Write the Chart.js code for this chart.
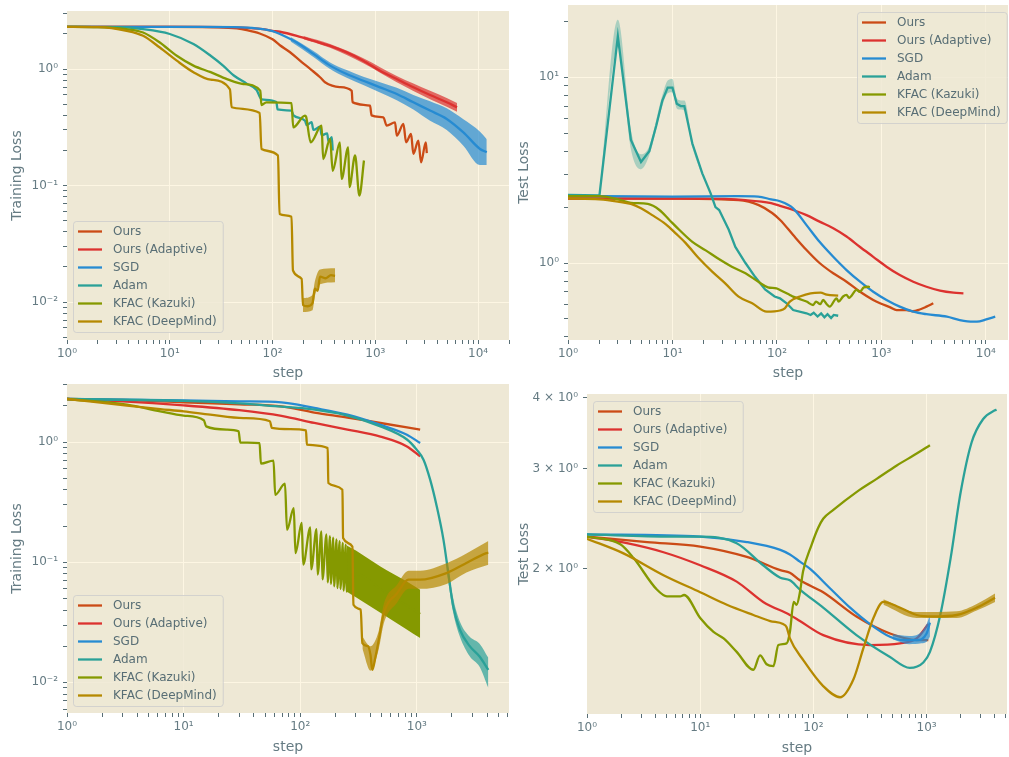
<!DOCTYPE html>
<html>
<head>
<meta charset="utf-8">
<title>Training / test loss</title>
<script src="https://cdn.jsdelivr.net/npm/chart.js@4.4.1/dist/chart.umd.min.js"></script>
<style>
  html, body { margin: 0; padding: 0; background: #ffffff; }
  #figure { position: relative; width: 1009px; height: 757px; overflow: hidden; }
  #figure canvas { position: absolute; }
</style>
</head>
<body>
<div id="figure">
  <canvas id="trainA" width="510" height="380" style="left:0px;top:0px"></canvas>
  <canvas id="testA" width="504" height="380" style="left:505px;top:0px"></canvas>
  <canvas id="trainB" width="510" height="377" style="left:0px;top:380px"></canvas>
  <canvas id="testB" width="504" height="377" style="left:505px;top:380px"></canvas>
</div>
<script>
// Series names and colours (Solarize_Light2 cycle)
const SERIES_KEYS = ['ours', 'adaptive', 'sgd', 'adam', 'kazuki', 'deepmind'];
const SERIES_LABELS = ['Ours', 'Ours (Adaptive)', 'SGD', 'Adam', 'KFAC (Kazuki)', 'KFAC (DeepMind)'];
const SERIES_COLORS = ['#cb4b16', '#dc322f', '#268bd2', '#2aa198', '#859900', '#b58900'];

// Tick labels
const DECADE_VALUES = [0.01, 0.1, 1, 10, 100, 1000, 10000];
const DECADE_LABELS = ['10⁻²', '10⁻¹', '10⁰', '10¹', '10²', '10³', '10⁴'];
const TESTB_Y_VALUES = [2, 3, 4];
const TESTB_Y_LABELS = ['2 × 10⁰', '3 × 10⁰', '4 × 10⁰'];

// ---- Top left: training loss, run A  ([step, loss]) ----
const trainAOurs = [[1,2.30],[10,2.30],[30,2.28],[45,2.23],[56,2.16],[75,2.02],[100,1.80],[118,1.60],[147,1.40],[185,1.18],[240,0.98],[290,0.85],[324,0.77],[450,0.70],[590,0.65],[600,0.52],[889,0.485],[920,0.40],[1197,0.385],[1292,0.327],[1556,0.349],[1618,0.268],[1877,0.338],[1993,0.235],[2228,0.277],[2346,0.187],[2624,0.243],[2787,0.158],[3097,0.235],[3170,0.19]];
const trainAAdaptive = [[1,2.30],[20,2.30],[50,2.27],[80,2.20],[100,2.13],[118,2.09],[172,1.93],[250,1.75],[363,1.58],[527,1.39],[765,1.18],[1112,0.968],[1618,0.82],[2346,0.697],[3412,0.598],[4955,0.518],[6240,0.469]];
const trainASgd = [[1,2.30],[20,2.30],[50,2.28],[80,2.20],[100,2.12],[118,2.00],[172,1.69],[250,1.35],[363,1.07],[527,0.906],[765,0.794],[1112,0.697],[1618,0.61],[2346,0.518],[3412,0.44],[4955,0.373],[7194,0.286],[10450,0.206],[12150,0.193]];
const trainAAdam = [[1,2.30],[3,2.29],[5.5,2.20],[10,2.0],[17,1.64],[25,1.30],[33,1.07],[42,0.88],[56,0.75],[70,0.66],[78,0.55],[109,0.52],[112,0.45],[153,0.44],[160,0.40],[207,0.36],[215,0.33],[240,0.35],[250,0.30],[290,0.32],[300,0.27],[340,0.28],[350,0.24],[377,0.26],[385,0.20]];
const trainAKazuki = [[1,2.30],[2,2.29],[3.8,2.2],[5.5,2.06],[8,1.69],[11.7,1.30],[17,1.07],[25,0.94],[36,0.82],[52,0.744],[76,0.65],[78,0.49],[87,0.518],[153,0.51],[159,0.316],[207,0.398],[212,0.39],[235,0.235],[300,0.327],[311,0.169],[363,0.251],[385,0.134],[452,0.235],[470,0.114],[545,0.213],[560,0.097],[636,0.181],[700,0.082],[776,0.164]];
const trainADeepmind = [[1,2.30],[2,2.29],[3.8,2.13],[5.5,1.93],[8,1.53],[11.7,1.18],[17,0.94],[25,0.81],[38.5,0.67],[40,0.47],[75,0.42],[78,0.206],[113,0.181],[117,0.057],[153,0.054],[158,0.0187],[192,0.0158],[198,0.0094],[220,0.0092],[245,0.0098],[258,0.013],[275,0.0125],[290,0.0165],[330,0.016],[370,0.017],[406,0.0168]];
// noise envelopes: [step, low, high]
const trainAAdaptiveBand = [[200,1.80,1.92],[363,1.52,1.64],[765,1.12,1.24],[1618,0.77,0.87],[3412,0.55,0.65],[4955,0.475,0.565],[6240,0.43,0.51]];
const trainASgdBand = [[150,1.72,1.88],[250,1.27,1.43],[363,1.0,1.14],[527,0.84,0.98],[765,0.73,0.86],[1112,0.63,0.77],[1618,0.54,0.69],[2346,0.45,0.60],[3412,0.36,0.53],[4955,0.30,0.46],[7194,0.22,0.37],[10450,0.15,0.29],[12150,0.15,0.25]];
const trainADeepmindBand = [[198,0.0082,0.0108],[245,0.0085,0.0115],[258,0.0112,0.015],[290,0.0142,0.019],[406,0.0148,0.0195]];

// ---- Top right: test loss, run A ----
const testAOurs = [[1,2.23],[10,2.22],[43,2.18],[67,2.05],[90,1.86],[108,1.70],[143,1.415],[192,1.175],[256,1.0],[346,0.88],[464,0.793],[625,0.70],[836,0.632],[970,0.607],[1217,0.577],[1400,0.558],[1740,0.558],[2000,0.55],[2300,0.56],[2700,0.582],[3140,0.607]];
const testAAdaptive = [[1,2.22],[20,2.22],[50,2.18],[88,2.10],[107,2.03],[143,1.93],[192,1.81],[256,1.67],[346,1.54],[464,1.39],[625,1.22],[836,1.08],[1120,0.955],[1500,0.861],[2020,0.793],[2700,0.745],[3640,0.71],[4900,0.692],[6100,0.687]];
const testASgd = [[1,2.30],[10,2.28],[42,2.29],[66,2.28],[88,2.2],[107,2.15],[143,1.97],[192,1.6],[256,1.30],[346,1.08],[464,0.916],[625,0.793],[836,0.70],[1120,0.632],[1500,0.582],[2020,0.547],[2700,0.53],[4240,0.514],[5630,0.493],[7560,0.483],[8730,0.485],[10100,0.497],[12300,0.514]];
const testAAdam = [[1,2.33],[2,2.31],[3,16.6],[4,4.6],[5,3.5],[6,4.0],[7,5.5],[8,7.5],[9,8.8],[10,8.8],[11,7.2],[12,7.0],[13,7.0],[15.5,4.4],[19.3,3.04],[23.2,2.37],[25.8,2.0],[28,1.93],[34.6,1.51],[40,1.22],[50,1.0],[62,0.84],[77,0.72],[95,0.66],[107,0.645],[124,0.607],[143,0.558],[192,0.536],[210,0.525],[225,0.54],[245,0.515],[265,0.535],[285,0.51],[305,0.53],[330,0.505],[350,0.525],[386,0.52]];
const testAKazuki = [[1,2.29],[2,2.29],[3,2.2],[4,2.11],[5.8,2.08],[7.5,1.93],[9.3,1.71],[11.6,1.51],[15.5,1.30],[20.8,1.17],[27.8,1.05],[37,0.955],[50,0.88],[67,0.79],[82,0.74],[99,0.73],[107,0.716],[133,0.673],[143,0.659],[192,0.62],[222,0.594],[237,0.62],[260,0.60],[277,0.632],[300,0.60],[320,0.582],[372,0.645],[390,0.62],[430,0.66],[464,0.673],[490,0.65],[580,0.716],[620,0.70],[680,0.74],[750,0.745],[775,0.74]];
const testADeepmind = [[1,2.23],[2,2.2],[3,2.14],[4,2.08],[5,1.97],[6.4,1.81],[8.6,1.62],[10.8,1.44],[13.4,1.28],[17.9,1.06],[24,0.898],[32,0.777],[43,0.659],[58,0.607],[80,0.547],[107,0.555],[119,0.57],[133,0.62],[166,0.66],[210,0.687],[262,0.692],[300,0.675],[386,0.668]];
const testAAdamBand = [[2,2.30,2.36],[3,14.5,20.4],[4,4.1,5.2],[5,3.2,3.85],[6,3.8,4.25],[8,7.0,8.0],[9,8.2,9.6],[10,8.3,9.8],[11,6.8,7.7],[12,6.7,7.5],[13,6.6,7.5],[15.5,4.2,4.6],[19.3,2.95,3.12]];

// ---- Bottom left: training loss, run B ----
const trainBOurs = [[1,2.28],[3,2.24],[10,2.14],[30,2.06],[69,1.98],[132,1.76],[254,1.60],[487,1.44],[1067,1.27]];
const trainBAdaptive = [[1,2.28],[3,2.18],[10,2.02],[30,1.84],[69,1.65],[132,1.44],[254,1.27],[487,1.11],[822,0.92],[1067,0.76]];
const trainBSgd = [[1,2.28],[10,2.22],[30,2.18],[69,2.14],[132,1.92],[254,1.69],[487,1.39],[822,1.15],[1067,0.98]];
const trainBAdam = [[1,2.28],[10,2.2],[30,2.10],[69,1.97],[100,1.92],[254,1.66],[487,1.35],[822,1.05],[1000,0.86],[1140,0.713],[1300,0.486],[1480,0.292],[1690,0.154],[1860,0.0813],[2050,0.0429],[2340,0.0274],[2840,0.02],[3450,0.0164],[4100,0.0127]];
const trainBKazuki = [[1,2.28],[3.27,2.05],[6.3,1.80],[10,1.66],[14.9,1.52],[15.6,1.35],[23.5,1.27],[29.6,1.23],[30.6,0.99],[44.8,0.98],[46,0.66],[59,0.70],[61,0.364],[74,0.45],[77,0.186],[88,0.282],[91,0.119],[103,0.212],[106,0.0955],[122,0.195],[124,0.087],[138,0.188],[141,0.079],[152,0.18],[155,0.072],[168,0.17],[172,0.068],[180,0.165],[183,0.066],[192,0.16],[195,0.063],[205,0.155],[208,0.061],[218,0.15],[221,0.06],[232,0.145],[235,0.058],[246,0.14],[249,0.057],[300,0.08],[487,0.06],[1067,0.037]];
const trainBDeepmind = [[1,2.28],[3.27,2.01],[6.3,1.88],[10,1.80],[16.9,1.69],[32.6,1.58],[55,1.49],[57,1.31],[82,1.28],[112,1.25],[114,0.95],[172,0.89],[174,0.456],[230,0.40],[233,0.159],[280,0.135],[286,0.0443],[330,0.0403],[341,0.0212],[380,0.020],[400,0.017],[415,0.0127],[440,0.016],[472,0.0227],[521,0.0378],[676,0.055],[849,0.0715],[1067,0.0715],[1800,0.0813],[2660,0.0984],[3940,0.119],[4100,0.12]];
const trainBAdamBand = [[1800,0.085,0.11],[2050,0.038,0.05],[2340,0.024,0.032],[2840,0.0165,0.024],[3450,0.0135,0.021],[4100,0.009,0.016]];
const trainBKazukiBand = [[250,0.057,0.138],[300,0.051,0.125],[487,0.038,0.092],[800,0.028,0.07],[1067,0.0234,0.059]];
const trainBDeepmindBand = [[341,0.019,0.024],[400,0.0125,0.02],[472,0.019,0.027],[521,0.031,0.045],[676,0.046,0.065],[849,0.06,0.085],[1067,0.06,0.085],[1800,0.066,0.098],[2660,0.082,0.118],[4100,0.095,0.15]];

// ---- Bottom right: test loss, run B ----
const testBOurs = [[1,2.28],[3.4,2.23],[10,2.19],[25.8,2.10],[51,1.99],[62,1.97],[76,1.91],[122,1.82],[240,1.65],[475,1.54],[817,1.50],[1035,1.50]];
const testBAdaptive = [[1,2.28],[2.25,2.22],[4.74,2.14],[10,2.03],[21,1.90],[36,1.75],[62,1.66],[76,1.62],[122,1.53],[316,1.47],[582,1.48],[817,1.51],[1035,1.60]];
const testBSgd = [[1,2.30],[10,2.28],[25.8,2.23],[51,2.16],[62,2.12],[76,2.06],[93.5,2.0],[140,1.85],[211,1.71],[316,1.60],[475,1.52],[622,1.50],[817,1.50],[1000,1.54],[1070,1.61]];
const testBAdam = [[1,2.30],[5.6,2.28],[10,2.28],[21,2.22],[36,2.03],[51,1.93],[62,1.91],[76,1.84],[122,1.71],[240,1.53],[475,1.40],[710,1.34],[935,1.37],[1070,1.43],[1320,1.66],[1630,2.09],[2000,2.73],[2500,3.34],[3160,3.67],[4020,3.80],[4150,3.81]];
const testBKazuki = [[1,2.28],[1.97,2.21],[2.58,2.09],[4.14,1.84],[5.08,1.79],[6.66,1.79],[7.2,1.80],[10,1.64],[13.1,1.55],[16.1,1.51],[21,1.43],[29.5,1.33],[33.8,1.41],[38.6,1.36],[44.4,1.35],[49,1.47],[58,1.48],[62,1.55],[67,1.75],[71,1.73],[76,1.82],[81,1.98],[96,2.20],[110,2.36],[122,2.45],[150,2.54],[240,2.73],[362,2.88],[545,3.04],[817,3.19],[1070,3.30]];
const testBDeepmind = [[1,2.26],[2.1,2.13],[4.74,1.95],[10,1.82],[17.2,1.73],[29.5,1.66],[41.5,1.62],[54,1.60],[58,1.58],[62,1.51],[82,1.38],[122,1.245],[172,1.19],[226,1.28],[276,1.45],[339,1.64],[415,1.75],[545,1.72],[817,1.66],[1146,1.65],[1845,1.66],[2770,1.71],[4020,1.78]];
const testBSgdBand = [[500,1.505,1.535],[700,1.475,1.525],[900,1.48,1.55],[1000,1.49,1.60],[1070,1.52,1.66]];
const testBDeepmindBand = [[415,1.73,1.77],[817,1.64,1.68],[1845,1.64,1.685],[2770,1.69,1.735],[4020,1.75,1.81]];

// Panel layout (canvas-relative pixels); "sharp" series are drawn as straight segments
const PANELS = [
  {
    id: 'trainA', yWidth: 67, xHeight: 40, pad: { top: 11, right: 1 },
    xMax: 2.0e4, yMin: 0.00472, yMax: 3.15, yLabel: 'Training Loss', yTitlePad: 10, xTitlePad: 0,
    yValues: DECADE_VALUES, yLabels: DECADE_LABELS, legend: { x: 73, y: 221 },
    series: { ours: trainAOurs, adaptive: trainAAdaptive, sgd: trainASgd, adam: trainAAdam, kazuki: trainAKazuki, deepmind: trainADeepmind },
    bands: { adaptive: trainAAdaptiveBand, sgd: trainASgdBand, deepmind: trainADeepmindBand },
    sharp: []
  },
  {
    id: 'testA', yWidth: 63, xHeight: 40, pad: { top: 5, right: 1 },
    xMax: 1.63e4, yMin: 0.385, yMax: 24.5, yLabel: 'Test Loss', yTitlePad: 12, xTitlePad: 0,
    yValues: DECADE_VALUES, yLabels: DECADE_LABELS, legend: { x: 352, y: 12 },
    series: { ours: testAOurs, adaptive: testAAdaptive, sgd: testASgd, adam: testAAdam, kazuki: testAKazuki, deepmind: testADeepmind },
    bands: { adam: testAAdamBand }, bandAlpha: { adam: 0.35 },
    sharp: ['adam']
  },
  {
    id: 'trainB', yWidth: 67, xHeight: 44, pad: { top: 4, right: 1 },
    xMax: 6166, yMin: 0.00556, yMax: 3.04, yLabel: 'Training Loss', yTitlePad: 10, xTitlePad: 3,
    yValues: DECADE_VALUES, yLabels: DECADE_LABELS, legend: { x: 73, y: 215 },
    series: { ours: trainBOurs, adaptive: trainBAdaptive, sgd: trainBSgd, adam: trainBAdam, kazuki: trainBKazuki, deepmind: trainBDeepmind },
    bands: { adam: trainBAdamBand, kazuki: trainBKazukiBand, deepmind: trainBDeepmindBand }, bandAlpha: { kazuki: 1 },
    sharp: []
  },
  {
    id: 'testB', yWidth: 82, xHeight: 43, pad: { top: 14, right: 2 },
    xMax: 5130, yMin: 1.112, yMax: 4.06, yLabel: 'Test Loss', yTitlePad: 12, xTitlePad: 2,
    yValues: TESTB_Y_VALUES, yLabels: TESTB_Y_LABELS, legend: { x: 88, y: 21 },
    series: { ours: testBOurs, adaptive: testBAdaptive, sgd: testBSgd, adam: testBAdam, kazuki: testBKazuki, deepmind: testBDeepmind },
    bands: { sgd: testBSgdBand, deepmind: testBDeepmindBand },
    sharp: []
  }
];

const PLOT_BG = '#eee8d5';
const GRID = '#fdf6e3';
const TEXT = '#657b83';
const TICK = '#586e75';

Chart.defaults.font.family = '"DejaVu Sans", sans-serif';

function withAlpha(hex, a) {
  const n = parseInt(hex.slice(1), 16);
  return `rgba(${n >> 16}, ${(n >> 8) & 255}, ${n & 255}, ${a})`;
}

// 1..9 x 10^k ticks inside [min, max]
function logTicks(min, max) {
  const ticks = [];
  for (let k = Math.floor(Math.log10(min)); k <= Math.ceil(Math.log10(max)); k++) {
    for (let m = 1; m <= 9; m++) {
      const v = +(m * Math.pow(10, k)).toPrecision(6);
      if (v >= min && v <= max) ticks.push({ value: v, major: m === 1 });
    }
  }
  return ticks;
}

function tickText(value, values, labels) {
  const i = values.findIndex(v => Math.abs(v - value) < v * 1e-6);
  return i >= 0 ? labels[i] : '';
}

function gridColor(ctx) {
  const t = ctx.tick;
  return t && t.major && t.value !== ctx.scale.min ? GRID : 'rgba(0,0,0,0)';
}

// Beige plot area
const plotBackground = {
  id: 'plotBackground',
  beforeDraw(chart) {
    const { ctx, chartArea: a } = chart;
    ctx.save();
    ctx.fillStyle = PLOT_BG;
    ctx.fillRect(a.left, a.top, a.right - a.left, a.bottom - a.top);
    ctx.restore();
  }
};

// Framed legend drawn inside the axes
const boxLegend = {
  id: 'boxLegend',
  afterDraw(chart, args, opts) {
    const { ctx } = chart;
    ctx.save();
    ctx.font = '12px "DejaVu Sans"';
    const textW = Math.max(...SERIES_LABELS.map(t => ctx.measureText(t).width));
    const w = 40 + textW + 6;
    const h = 111;
    ctx.beginPath();
    ctx.roundRect(opts.x + 0.5, opts.y + 0.5, w, h, 3);
    ctx.fillStyle = 'rgba(238, 232, 213, 0.8)';
    ctx.fill();
    ctx.strokeStyle = 'rgba(204, 204, 204, 0.8)';
    ctx.lineWidth = 1;
    ctx.stroke();
    ctx.textBaseline = 'middle';
    SERIES_LABELS.forEach((label, i) => {
      const cy = opts.y + 10.5 + i * 18;
      ctx.strokeStyle = SERIES_COLORS[i];
      ctx.lineWidth = 2.3;
      ctx.beginPath();
      ctx.moveTo(opts.x + 5, cy);
      ctx.lineTo(opts.x + 29, cy);
      ctx.stroke();
      ctx.fillStyle = TICK;
      ctx.fillText(label, opts.x + 40, cy);
    });
    ctx.restore();
  }
};

function toPoints(arr, col) {
  return arr.map(p => ({ x: p[0], y: p[col] }));
}

function buildDatasets(panel) {
  const datasets = [];
  SERIES_KEYS.forEach((key, i) => {
    const color = SERIES_COLORS[i];
    const order = (SERIES_KEYS.length - i) * 2;
    const curve = panel.sharp.includes(key) ? 'default' : 'monotone';
    const band = panel.bands[key];
    if (band) {
      const alpha = (panel.bandAlpha && panel.bandAlpha[key]) || 0.7;
      datasets.push({
        data: toPoints(band, 2), borderWidth: 0, borderColor: 'rgba(0,0,0,0)',
        pointRadius: 0, fill: false, order: order + 1, cubicInterpolationMode: 'monotone'
      });
      datasets.push({
        data: toPoints(band, 1), borderWidth: 0, borderColor: 'rgba(0,0,0,0)',
        pointRadius: 0, fill: '-1', backgroundColor: withAlpha(color, alpha), order: order + 1,
        cubicInterpolationMode: 'monotone'
      });
    }
    datasets.push({
      label: SERIES_LABELS[i],
      data: toPoints(panel.series[key], 1),
      borderColor: color,
      borderWidth: 2.3,
      pointRadius: 0,
      tension: 0,
      cubicInterpolationMode: curve,
      fill: false,
      order: order
    });
  });
  return datasets;
}

function createPanel(panel) {
  const ctx = document.getElementById(panel.id).getContext('2d');
  return new Chart(ctx, {
    type: 'line',
    data: { datasets: buildDatasets(panel) },
    plugins: [plotBackground, boxLegend],
    options: {
      responsive: false,
      animation: false,
      events: [],
      layout: { padding: { top: panel.pad.top, right: panel.pad.right, left: 0, bottom: 0 } },
      plugins: {
        legend: { display: false },
        tooltip: { enabled: false },
        boxLegend: panel.legend
      },
      scales: {
        x: {
          type: 'logarithmic',
          min: 1,
          max: panel.xMax,
          afterBuildTicks: s => { s.ticks = logTicks(1, panel.xMax); },
          afterFit: s => { s.height = panel.xHeight; s.paddingLeft = 0; s.paddingRight = 0; },
          ticks: {
            autoSkip: false, maxRotation: 0, padding: 3, color: TEXT, font: { size: 12 },
            callback: v => tickText(v, DECADE_VALUES, DECADE_LABELS)
          },
          grid: { color: gridColor, tickColor: TICK, tickLength: 4, lineWidth: 1 },
          border: { display: false },
          title: {
            display: true, text: 'step', color: TEXT,
            font: { size: 14, lineHeight: 1 }, padding: { top: 0, bottom: panel.xTitlePad }
          }
        },
        y: {
          type: 'logarithmic',
          min: panel.yMin,
          max: panel.yMax,
          afterBuildTicks: s => { s.ticks = logTicks(panel.yMin, panel.yMax); },
          afterFit: s => { s.width = panel.yWidth; s.paddingTop = 0; s.paddingBottom = 0; },
          ticks: {
            autoSkip: false, padding: 5, color: TEXT, font: { size: 12 },
            callback: v => tickText(v, panel.yValues, panel.yLabels)
          },
          grid: { color: gridColor, tickColor: TICK, tickLength: 4, lineWidth: 1 },
          border: { display: false },
          title: {
            display: true, text: panel.yLabel, color: TEXT,
            font: { size: 14, lineHeight: 1 }, padding: { top: panel.yTitlePad, bottom: 0 }
          }
        }
      }
    }
  });
}

PANELS.forEach(createPanel);
</script>
</body>
</html>
